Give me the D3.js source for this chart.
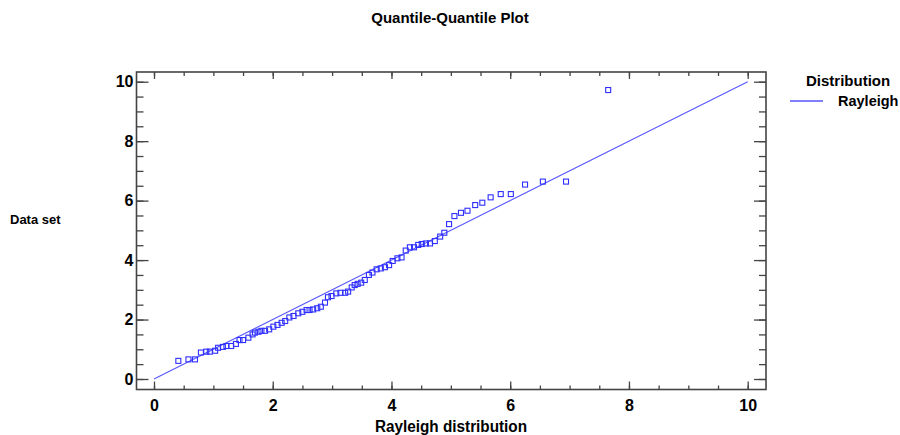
<!DOCTYPE html>
<html><head><meta charset="utf-8">
<script src="https://cdn.jsdelivr.net/npm/d3@7"></script>
<style>
body{margin:0;background:#fff;}
text{font-family:"Liberation Sans",Arial,sans-serif;font-weight:bold;fill:#000;}
</style></head>
<body><svg id="c" width="900" height="435"></svg>
<script>
// Rayleigh quantiles (x) and sorted data values (y)
const rayleighQuantiles = [0.41,0.58,0.69,0.79,0.88,0.94,1.03,1.08,1.16,1.22,1.30,1.38,1.44,1.50,1.59,1.66,1.70,1.76,1.81,1.87,1.94,2.01,2.08,2.15,2.21,2.28,2.35,2.43,2.50,2.57,2.62,2.68,2.75,2.81,2.88,2.93,2.99,3.07,3.14,3.22,3.27,3.33,3.38,3.43,3.49,3.55,3.62,3.68,3.75,3.82,3.89,3.96,4.02,4.10,4.17,4.24,4.31,4.38,4.45,4.51,4.58,4.65,4.73,4.82,4.89,4.97,5.06,5.17,5.28,5.41,5.53,5.67,5.84,6.01,6.25,6.55,6.94,7.65];
const dataValues = [0.61,0.66,0.66,0.89,0.92,0.92,0.95,1.05,1.08,1.11,1.11,1.18,1.31,1.31,1.39,1.50,1.56,1.59,1.62,1.62,1.67,1.76,1.82,1.89,1.95,2.07,2.12,2.21,2.26,2.32,2.32,2.34,2.38,2.43,2.57,2.75,2.79,2.88,2.90,2.90,2.94,3.08,3.16,3.20,3.24,3.33,3.50,3.58,3.69,3.72,3.76,3.83,3.97,4.06,4.09,4.32,4.43,4.43,4.51,4.54,4.56,4.56,4.64,4.79,4.92,5.21,5.48,5.59,5.66,5.85,5.93,6.11,6.22,6.22,6.54,6.64,6.64,9.72];
const refLine = [[0,0],[10,10]];
const xTickLabels = [0,2,4,6,8,10];
const yTickLabels = [0,2,4,6,8,10];
const legendLabel = "Rayleigh";

const svg = d3.select("#c");
const L=136.5, R=766, T=72, B=389.5;
const x = d3.scaleLinear().domain([0,10]).range([154,747.7]);
const y = d3.scaleLinear().domain([0,10]).range([379,81.7]);
const minor = d3.range(0,10.01,0.5);
const frameColor="#444";

function styleAxis(g){ g.select(".domain").remove(); g.selectAll("line").attr("stroke",frameColor).attr("stroke-width",1.3); }

// bottom
svg.append("g").attr("transform",`translate(0,${B})`)
  .call(d3.axisBottom(x).tickValues(minor).tickSizeInner(-4).tickSizeOuter(0).tickFormat(""))
  .call(styleAxis);
svg.append("g").attr("transform",`translate(0,${B})`)
  .call(d3.axisBottom(x).tickValues(xTickLabels).tickSizeInner(-8).tickSizeOuter(0).tickPadding(10).tickFormat(d3.format("d")))
  .call(styleAxis)
  .call(g=>g.selectAll("text").style("font-size","16px").style("font-family","'Liberation Sans',Arial,sans-serif").style("font-weight","bold"));
// top
svg.append("g").attr("transform",`translate(0,${T})`)
  .call(d3.axisTop(x).tickValues(minor).tickSizeInner(-4).tickSizeOuter(0).tickFormat(""))
  .call(styleAxis);
svg.append("g").attr("transform",`translate(0,${T})`)
  .call(d3.axisTop(x).tickValues(xTickLabels).tickSizeInner(-7).tickSizeOuter(0).tickFormat(""))
  .call(styleAxis);
// left
svg.append("g").attr("transform",`translate(${L},0)`)
  .call(d3.axisLeft(y).tickValues(minor).tickSizeInner(-7).tickSizeOuter(0).tickFormat(""))
  .call(styleAxis);
svg.append("g").attr("transform",`translate(${L},0)`)
  .call(d3.axisLeft(y).tickValues(yTickLabels).tickSizeInner(-12).tickSizeOuter(0).tickPadding(4).tickFormat(d3.format("d")))
  .call(styleAxis)
  .call(g=>g.selectAll("text").attr("x",-3).style("font-size","16px").style("font-family","'Liberation Sans',Arial,sans-serif").style("font-weight","bold"));
// right
svg.append("g").attr("transform",`translate(${R},0)`)
  .call(d3.axisRight(y).tickValues(minor).tickSizeInner(-7).tickSizeOuter(0).tickFormat(""))
  .call(styleAxis);
svg.append("g").attr("transform",`translate(${R},0)`)
  .call(d3.axisRight(y).tickValues(yTickLabels).tickSizeInner(-12).tickSizeOuter(0).tickFormat(""))
  .call(styleAxis);

// frame
svg.append("rect").attr("x",L).attr("y",T).attr("width",R-L).attr("height",B-T)
  .attr("fill","none").attr("stroke",frameColor).attr("stroke-width",1.6);

// reference line
svg.append("path").datum(refLine)
  .attr("d",d3.line().x(d=>x(d[0])).y(d=>y(d[1])))
  .attr("stroke","#5656ff").attr("stroke-width",1.1).attr("fill","none");

// points
const pts = rayleighQuantiles.map((q,i)=>({q,v:dataValues[i]}));
svg.append("g").selectAll("rect").data(pts).join("rect")
  .attr("x",d=>x(d.q)-2.5).attr("y",d=>y(d.v)-2.5)
  .attr("width",5).attr("height",5)
  .attr("fill","none").attr("stroke","#2f2fff").attr("stroke-width",1.1);

// titles
svg.append("text").attr("x",450).attr("y",23).attr("text-anchor","middle").style("font-size","15px").text("Quantile-Quantile Plot");
svg.append("text").attr("transform","translate(451,432) scale(0.9,1)").attr("text-anchor","middle").style("font-size","17px").text("Rayleigh distribution");
svg.append("text").attr("x",10).attr("y",224).style("font-size","13px").text("Data set");

// legend
svg.append("text").attr("x",806).attr("y",86).style("font-size","15px").text("Distribution");
svg.append("line").attr("x1",790).attr("x2",823).attr("y1",101).attr("y2",101).attr("stroke","#5656ff").attr("stroke-width",1.3);
svg.append("text").attr("x",838).attr("y",106).style("font-size","14.5px").text(legendLabel);
</script></body></html>
